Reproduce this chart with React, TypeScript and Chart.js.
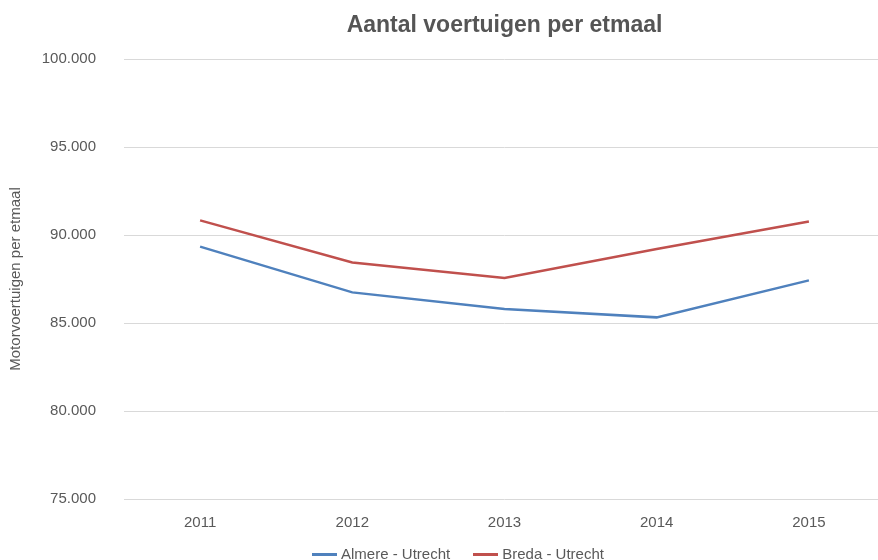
import React, { useEffect, useRef } from "react";
import { Chart, registerables } from "chart.js";

Chart.register(...registerables);

const years = ["2011", "2012", "2013", "2014", "2015"];
const almereUtrecht = [89340, 86740, 85800, 85320, 87420];
const bredaUtrecht = [90830, 88440, 87560, 89200, 90770];
const seriesNames = ["Almere - Utrecht", "Breda - Utrecht"];
const seriesColors = ["#4f81bd", "#c0504d"];
const yMin = 75000;
const yMax = 100000;
const yStep = 5000;
const chartTitle = "Aantal voertuigen per etmaal";
const yAxisTitle = "Motorvoertuigen per etmaal";

const FONT = "'Liberation Sans', Arial, sans-serif";
const TEXT = "#595959";

const fmt = (v: number) => String(v).replace(/\B(?=(\d{3})+(?!\d))/g, ".");

export default function App() {
  const ref = useRef<HTMLCanvasElement | null>(null);

  useEffect(() => {
    if (!ref.current) return;
    const chart = new Chart(ref.current, {
      type: "line",
      data: {
        labels: years,
        datasets: [
          {
            label: seriesNames[0],
            data: almereUtrecht,
            borderColor: seriesColors[0],
            backgroundColor: seriesColors[0],
            borderWidth: 2.5,
            pointRadius: 0,
            tension: 0,
          },
          {
            label: seriesNames[1],
            data: bredaUtrecht,
            borderColor: seriesColors[1],
            backgroundColor: seriesColors[1],
            borderWidth: 2.5,
            pointRadius: 0,
            tension: 0,
          },
        ],
      },
      options: {
        responsive: false,
        animation: false,
        devicePixelRatio: 1,
        layout: { padding: 0 },
        plugins: {
          legend: { display: false },
          tooltip: { enabled: false },
          title: {
            display: true,
            text: chartTitle,
            fullSize: false,
            color: "#555555",
            font: { family: FONT, size: 23, weight: "bold", lineHeight: 1.2 },
            padding: { top: 12, bottom: 19.4 },
          },
        },
        scales: {
          x: {
            offset: true,
            grid: { display: false, drawTicks: false, offset: true },
            border: { display: false },
            ticks: { color: TEXT, font: { family: FONT, size: 15 }, padding: 15 },
            afterFit: (s: any) => {
              s.height = 61;
            },
          },
          y: {
            min: yMin,
            max: yMax,
            grid: { color: "#d9d9d9", lineWidth: 1, drawTicks: false },
            border: { display: false },
            ticks: {
              stepSize: yStep,
              padding: 28,
              color: TEXT,
              font: { family: FONT, size: 15 },
              callback: (v: any) => fmt(Number(v)),
            },
            title: {
              display: true,
              text: yAxisTitle,
              color: TEXT,
              font: { family: FONT, size: 15, lineHeight: 1.2 },
              padding: { top: 6.5, bottom: 0 },
            },
            afterFit: (s: any) => {
              s.width = 124;
            },
          },
        },
      } as any,
    });
    return () => chart.destroy();
  }, []);

  return (
    <div
      style={{
        position: "absolute",
        left: 0,
        top: 0,
        width: 878,
        height: 560,
        overflow: "hidden",
        background: "#fff",
      }}
    >
      <canvas ref={ref} width={885} height={560} style={{ display: "block", width: 885, height: 560 }} />
      <div
        style={{
          position: "absolute",
          left: 312,
          top: 545,
          display: "flex",
          alignItems: "center",
          fontFamily: FONT,
          fontSize: 15,
          lineHeight: "18px",
          color: TEXT,
          whiteSpace: "nowrap",
        }}
      >
        {seriesNames.map((name, i) => (
          <div key={name} style={{ display: "flex", alignItems: "center", marginRight: i === 0 ? 23 : 0 }}>
            <span
              style={{
                display: "inline-block",
                width: 25,
                height: 3,
                background: seriesColors[i],
                marginRight: 4,
              }}
            />
            <span>{name}</span>
          </div>
        ))}
      </div>
    </div>
  );
}
